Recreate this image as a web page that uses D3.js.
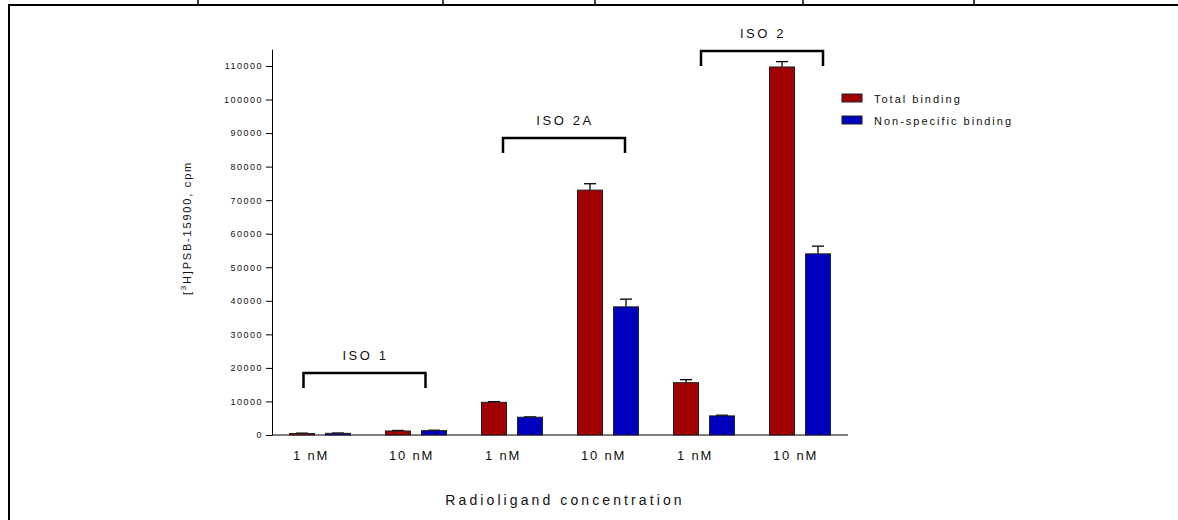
<!DOCTYPE html>
<html>
<head>
<meta charset="utf-8">
<script src="https://cdn.jsdelivr.net/npm/d3@7"></script>
<style>
  body { margin: 0; background: #fff; }
  svg { display: block; font-family: "Liberation Sans", Arial, sans-serif; }
  .axis path, .axis line { stroke: #000; stroke-width: 1; }
  .axis text { font-size: 9px; letter-spacing: 1.5px; fill: #111; }
</style>
</head>
<body>
<svg id="chart" width="1178" height="520"></svg>
<script>
// binding data, cpm (mean + error)
var slots = ["1 nM", "10 nM", "1 nM", "10 nM", "1 nM", "10 nM"];
var totalBinding = [450, 1200, 9750, 73000, 15600, 109700];
var totalErr = [100, 150, 200, 1900, 900, 1600];
var nsBinding = [500, 1300, 5300, 38200, 5700, 54000];
var nsErr = [80, 120, 100, 2300, 200, 2300];
var groups = ["ISO 1", "ISO 2A", "ISO 2"];
var bracketLevel = [18500, 88500, 114500];
var yTicks = d3.range(0, 110001, 10000);
var seriesNames = ["Total binding", "Non-specific binding"];
var seriesColors = ["#a00000", "#0000bf"];

var svg = d3.select("#chart");

// page frame (table borders)
svg.append("line").attr("x1", 8).attr("x2", 1178).attr("y1", 5).attr("y2", 5)
  .attr("stroke", "#000").attr("stroke-width", 2);
svg.append("line").attr("x1", 9).attr("x2", 9).attr("y1", 4).attr("y2", 520)
  .attr("stroke", "#000").attr("stroke-width", 2);
[198, 443, 595, 803, 974].forEach(function(x) {
  svg.append("line").attr("x1", x).attr("x2", x).attr("y1", 0).attr("y2", 5)
    .attr("stroke", "#000").attr("stroke-width", 1.5);
});

var x = d3.scaleBand().domain(d3.range(slots.length)).range([272, 848]);
var xs = d3.scaleBand().domain([0, 1]).range([0, x.bandwidth()])
  .paddingInner(0.3056).paddingOuter(0.486);
var y = d3.scaleLinear().domain([0, 115000]).range([435, 49.2]);

// y axis
svg.append("g").attr("class", "axis")
  .attr("transform", "translate(272,0)")
  .call(d3.axisLeft(y).tickValues(yTicks).tickSize(6).tickSizeOuter(0).tickPadding(3)
    .tickFormat(d3.format("d")));

// x axis line
svg.append("line").attr("x1", 272).attr("x2", 848).attr("y1", y(0)).attr("y2", y(0))
  .attr("stroke", "#000").attr("stroke-width", 1);

var rows = slots.map(function(s, i) {
  return [
    {slot: i, s: 0, v: totalBinding[i], e: totalErr[i]},
    {slot: i, s: 1, v: nsBinding[i], e: nsErr[i]}
  ];
});
var bars = [].concat.apply([], rows);

// error bars (upper only)
var eb = svg.append("g").attr("stroke", "#000").attr("stroke-width", 1.3);
bars.forEach(function(d) {
  var cx = x(d.slot) + xs(d.s) + xs.bandwidth() / 2;
  eb.append("line").attr("x1", cx).attr("x2", cx).attr("y1", y(d.v)).attr("y2", y(d.v + d.e));
  eb.append("line").attr("x1", cx - 6).attr("x2", cx + 6).attr("y1", y(d.v + d.e)).attr("y2", y(d.v + d.e));
});

svg.append("g").selectAll("rect")
  .data(bars)
  .enter().append("rect")
  .attr("x", function(d) { return x(d.slot) + xs(d.s); })
  .attr("y", function(d) { return y(d.v); })
  .attr("width", xs.bandwidth())
  .attr("height", function(d) { return y(0) - y(d.v); })
  .attr("fill", function(d) { return seriesColors[d.s]; })
  .attr("stroke", "#222")
  .attr("stroke-width", 1);

// category labels
svg.append("g").selectAll("text")
  .data(slots)
  .enter().append("text")
  .attr("x", function(d, i) { return x(i) + 21; })
  .attr("y", 460)
  .attr("font-size", 13)
  .attr("letter-spacing", 1.8)
  .attr("fill", "#111")
  .text(function(d) { return d; });

// group brackets
var shift = [-3.5, 4, 10];
groups.forEach(function(g, i) {
  var a = i * 2, b = i * 2 + 1;
  var mid = (x(a) + xs(0) + x(b) + xs(1) + xs.bandwidth()) / 2 + shift[i];
  var top = y(bracketLevel[i]);
  svg.append("path")
    .attr("d", "M" + (mid - 61) + "," + (top + 15) + "V" + top + "H" + (mid + 61) + "V" + (top + 15))
    .attr("fill", "none").attr("stroke", "#000").attr("stroke-width", 2.5);
  svg.append("text")
    .attr("x", mid + 1).attr("y", top - 13)
    .attr("text-anchor", "middle")
    .attr("font-size", 13).attr("letter-spacing", 2.6)
    .attr("fill", "#111")
    .text(g);
});

// axis titles
svg.append("text")
  .attr("x", 565).attr("y", 505)
  .attr("text-anchor", "middle")
  .attr("font-size", 14).attr("letter-spacing", 3.1)
  .attr("fill", "#111")
  .text("Radioligand concentration");

var yl = svg.append("text")
  .attr("transform", "translate(191,228) rotate(-90)")
  .attr("text-anchor", "middle")
  .attr("font-size", 11).attr("letter-spacing", 1.8)
  .attr("fill", "#111");
yl.append("tspan").text("[");
yl.append("tspan").attr("font-size", 8).attr("dy", -5).text("3");
yl.append("tspan").attr("dy", 5).text("H]PSB-15900, cpm");

// legend
var lg = svg.append("g");
seriesNames.forEach(function(n, i) {
  lg.append("rect").attr("x", 842).attr("y", 94 + i * 22).attr("width", 20).attr("height", 8)
    .attr("fill", seriesColors[i]).attr("stroke", "#222").attr("stroke-width", 1);
  lg.append("text").attr("x", 874).attr("y", 103 + i * 22)
    .attr("font-size", 11).attr("letter-spacing", 2)
    .attr("fill", "#111").text(n);
});
</script>
</body>
</html>
